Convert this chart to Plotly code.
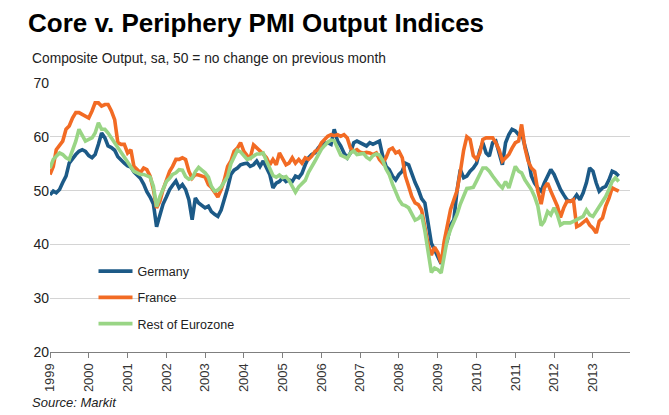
import pandas as pd
import plotly.graph_objects as go

# Monthly composite output PMI, Jan 1999 onwards
germany = [
    49.2, 49.9, 49.6, 50.2, 51.5, 52.7, 55.1, 56.0, 56.7, 57.3, 57.6, 57.3,
    56.5, 56.1, 56.7, 58.6, 60.7, 59.8, 58.3, 58.0, 57.5, 56.3, 55.6, 55.1,
    54.6, 54.4, 53.5, 53.0, 52.3, 51.2, 49.8, 48.8, 47.5, 43.3, 45.5, 47.5,
    48.8, 50.2, 51.0, 51.8, 50.5, 51.1, 50.2, 48.3, 44.6, 48.6, 47.7, 47.2,
    46.8, 47.1, 46.1, 45.6, 45.2, 46.4, 48.3, 50.5, 53.0, 53.8, 54.2, 54.8,
    55.0, 55.1, 54.5, 54.8, 55.5, 54.5, 55.5, 54.2, 53.0, 50.5, 51.4, 51.7,
    52.4, 51.7, 52.0, 51.7, 52.7, 52.4, 53.2, 54.8, 56.1, 56.7, 57.0, 57.9,
    58.6, 58.8, 58.9, 58.6, 61.4, 59.2, 58.3, 57.0, 56.1, 57.0, 58.9, 59.2,
    58.9, 58.6, 58.3, 58.9, 58.6, 58.9, 59.2, 56.4, 54.5, 53.9, 52.7, 52.0,
    53.0, 53.6, 55.1, 54.8, 53.0, 51.5, 50.2, 48.5, 47.7, 44.0, 40.2, 39.0,
    37.7, 36.4, 39.0, 40.8, 43.6, 44.6, 50.0, 53.9, 52.4, 52.7, 53.6, 54.2,
    55.1, 57.5, 58.9, 57.0, 56.4, 58.9, 59.2, 56.7, 54.8, 58.9, 60.4, 61.4,
    61.1, 60.4, 60.7, 58.3, 56.1, 52.7, 51.4, 50.5, 49.9, 51.4, 52.8, 53.9,
    53.0, 51.4, 50.2, 49.2, 48.3, 48.0, 48.3, 49.2, 48.3, 49.6, 51.5, 54.2,
    53.6, 51.4, 49.9, 50.5, 50.8, 52.0, 53.6, 53.3, 52.7,
]
france = [
    53.0, 54.5, 57.6, 58.3, 59.2, 61.4, 62.0, 63.5, 64.5, 64.5, 64.2, 63.9,
    63.5, 64.8, 66.3, 66.3, 65.7, 66.0, 66.0, 64.8, 63.2, 58.9, 58.6, 58.6,
    57.0, 57.6, 54.5, 53.9, 53.3, 54.2, 53.9, 52.7, 50.2, 46.8, 48.0, 50.2,
    52.0, 53.6, 54.5, 55.8, 55.8, 56.1, 55.8, 53.6, 52.3, 53.0, 52.9, 52.7,
    52.5, 51.1, 50.6, 49.7, 48.8, 50.2, 52.0, 54.5, 55.5, 57.3, 57.9, 58.9,
    57.3, 56.5, 56.1, 58.5, 58.0, 57.3, 56.8, 56.1, 54.8, 55.8, 54.8, 57.0,
    55.8, 54.8, 55.1, 56.1, 55.1, 55.8, 55.1, 56.1, 55.8, 56.4, 57.3, 57.6,
    58.9, 59.5, 60.1, 60.4, 60.2, 60.4, 60.1, 60.4, 59.8, 57.9, 57.3, 57.6,
    57.1, 57.0, 57.1, 57.0, 56.7, 57.0, 55.8, 55.1, 56.1, 57.6, 57.9, 57.0,
    57.3, 56.1, 52.7, 50.8, 48.9, 47.7, 47.4, 46.4, 43.3, 40.0, 38.0, 39.5,
    38.5, 36.5, 40.5, 44.0, 46.5, 48.3, 50.0, 53.5, 57.5, 60.0, 59.5, 56.5,
    55.8, 57.0, 59.5, 59.8, 59.8, 59.8, 58.9, 57.6, 55.5, 56.1, 56.7, 57.9,
    58.9, 59.2, 62.3, 58.0, 55.5, 54.2, 53.6, 49.9, 47.5, 50.5, 51.4, 49.9,
    48.3, 47.1, 45.0, 46.8, 48.0, 48.0, 48.3, 43.3, 43.6, 44.0, 44.6, 43.6,
    43.0, 42.1, 44.3, 44.9, 47.1, 48.6, 50.5, 50.2, 49.9,
]
rest_of_eurozone = [
    54.2, 55.8, 56.4, 57.0, 56.7, 56.1, 55.8, 57.3, 59.2, 61.4, 60.4, 59.2,
    59.5, 59.8, 60.7, 62.6, 61.4, 61.4, 60.7, 59.8, 58.9, 57.9, 57.0, 56.1,
    55.1, 54.2, 53.6, 53.3, 53.0, 53.0, 52.8, 52.5, 50.8, 47.0, 48.9, 50.5,
    51.7, 52.3, 53.0, 53.3, 53.9, 53.8, 52.6, 52.1, 52.3, 53.5, 54.3, 53.8,
    53.3, 52.5, 50.8, 49.9, 50.1, 50.7, 51.5, 52.6, 55.0, 56.3, 57.5, 57.2,
    56.6, 55.8, 56.0, 56.5, 56.8, 56.8, 57.0, 55.5, 54.0, 52.8, 52.5, 52.9,
    52.4, 52.6, 51.9, 50.6, 49.7, 50.7, 51.2, 51.9, 53.4, 54.6, 55.5, 56.6,
    57.7, 58.4, 59.0, 59.4, 59.3, 57.9, 56.6, 56.3, 56.0, 57.0, 57.4, 56.7,
    56.8, 56.9, 56.2, 55.8, 56.5, 56.8, 56.6, 55.6, 54.0, 53.0, 51.2, 49.8,
    48.3, 47.4, 47.2, 46.8, 45.6, 44.5, 44.8, 45.5, 42.5, 39.0, 34.8, 35.6,
    35.3, 34.7, 38.0, 41.0, 42.8, 44.2, 45.6, 47.5, 49.2, 50.4, 50.5, 50.6,
    51.8, 53.2, 54.2, 54.2, 53.6, 52.7, 51.8, 51.1, 50.5, 51.7, 50.5, 52.4,
    54.5, 53.6, 53.3, 52.0, 51.1, 50.2, 48.9, 47.1, 43.5, 44.3, 46.1, 45.5,
    46.8, 45.5, 43.6, 44.0, 44.0, 44.0, 44.3, 44.6, 44.9, 45.2, 46.4, 45.5,
    45.2, 46.1, 47.1, 48.0, 48.9, 50.2, 51.7, 52.4, 51.7,
]
dates = pd.date_range("1999-01-01", periods=len(germany), freq="MS")

series_names = ["Germany", "France", "Rest of Eurozone"]
series_colors = ["#1C5A87", "#F26B24", "#99D585"]
series_values = [germany, france, rest_of_eurozone]

fig = go.Figure()
for i, (name, vals, col) in enumerate(zip(series_names, series_values, series_colors)):
    fig.add_trace(go.Scatter(
        x=dates, y=vals, name=name, mode="lines",
        line=dict(color=col, width=3.6),
        legendgroup=f"g{i}",
    ))

# page body has an 8px margin, so the figure is 8px smaller each way
W, H = 661, 407
font_family = "Liberation Sans, Arial, sans-serif"
fig.update_layout(
    width=W, height=H,
    margin=dict(l=42, r=39, t=75, b=63),
    paper_bgcolor="white", plot_bgcolor="white",
    font=dict(family=font_family, color="#222222"),
    title=dict(
        text="<b>Core v. Periphery PMI Output Indices</b>",
        font=dict(size=26, color="#000000", family=font_family),
        x=20 / W, xanchor="left", xref="container",
        y=1 - 15 / H, yanchor="middle", yref="container",
    ),
    showlegend=True,
    legend=dict(
        x=0.075, y=0.355, xanchor="left", yanchor="top",
        bgcolor="rgba(0,0,0,0)", font=dict(size=12.5, color="#222222"),
        tracegroupgap=7, itemwidth=34,
    ),
    xaxis=dict(
        range=["1999-01-01", "2013-12-16"],
        tickformat="%Y", dtick="M12", tick0="1999-01-01",
        tickangle=-90, ticks="outside", ticklen=5, tickcolor="#7F7F7F",
        showline=True, linecolor="#7F7F7F", linewidth=1,
        showgrid=False, zeroline=False,
        tickfont=dict(size=13, color="#333333"),
    ),
    yaxis=dict(
        range=[20, 70], dtick=10, tick0=20,
        showgrid=True, gridcolor="#D4D4D4", gridwidth=1,
        showline=False, zeroline=False, ticks="",
        tickfont=dict(size=14, color="#222222"),
    ),
    annotations=[
        dict(text="Composite Output, sa, 50 = no change on previous month",
             xref="paper", yref="paper", x=-20 / 580, y=1 + 25 / 269,
             xanchor="left", yanchor="middle", showarrow=False,
             font=dict(size=13.8, color="#222222")),
        dict(text="<i>Source: Markit</i>",
             xref="paper", yref="paper", x=-20 / 580, y=-50 / 269,
             xanchor="left", yanchor="middle", showarrow=False,
             font=dict(size=13, color="#222222")),
    ],
)

fig.write_html("out.html")
